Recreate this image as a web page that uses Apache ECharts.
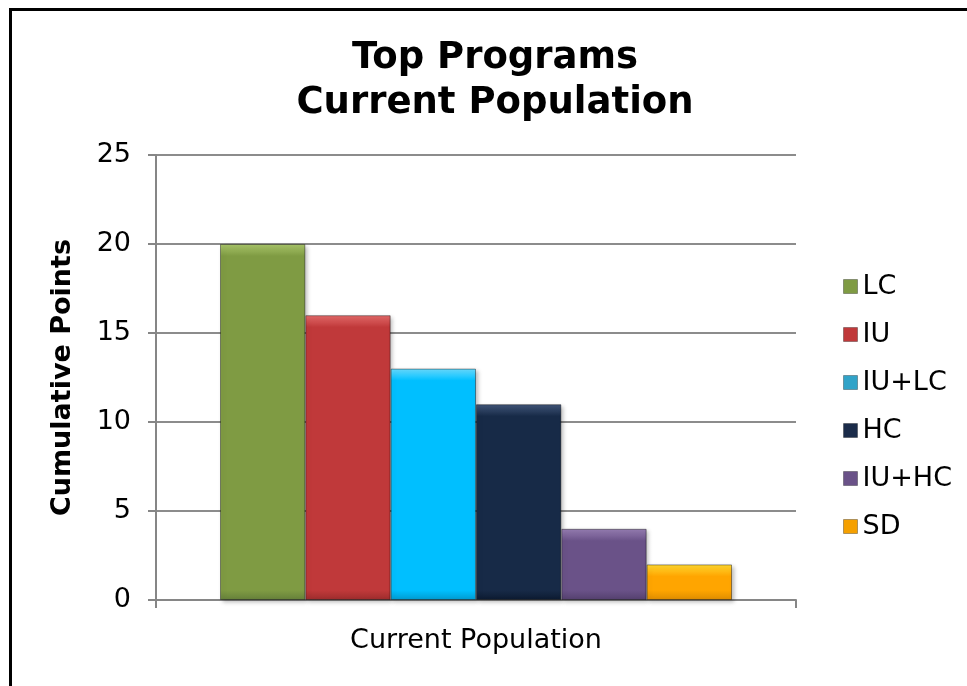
<!DOCTYPE html>
<html>
<head>
<meta charset="utf-8">
<style>
html,body{margin:0;padding:0;background:#fff;}
#c{width:967px;height:686px;}
</style>
<script src="https://cdn.jsdelivr.net/npm/echarts@6/dist/echarts.min.js"></script>
</head>
<body>
<div id="c"></div>
<script>
const categories = ['Current Population'];
const seriesNames = ['LC', 'IU', 'IU+LC', 'HC', 'IU+HC', 'SD'];
const seriesValues = [20, 16, 13, 11, 4, 2];
const yTicks = [0, 5, 10, 15, 20, 25];

const baseColors = ['#7f9b43', '#c0393a', '#00bfff', '#172a47', '#6a5288', '#ffa500'];
const topColors  = ['#a9c56a', '#e46a6a', '#6adcff', '#42577a', '#977eb3', '#ffd830'];
const botColors  = ['#65803a', '#9c2c2c', '#009ad0', '#0c1a30', '#54406e', '#dd8c00'];
const legendColors = ['#7f9b43', '#c0393a', '#31a3c8', '#1b2c4a', '#6a5288', '#f5a000'];

const chart = echarts.init(document.getElementById('c'));
const pxPerUnit = 445 / 25;
const bevel = 12;

const series = seriesNames.map((name, i) => {
  const h = seriesValues[i] * pxPerUnit;
  const f = Math.min(0.45, bevel / h);
  return {
    name: name,
    type: 'bar',
    barGap: '0%',
    barCategoryGap: '20%',
    data: [seriesValues[i]],
    itemStyle: {
      color: {
        type: 'linear', x: 0, y: 0, x2: 0, y2: 1,
        colorStops: [
          {offset: 0, color: topColors[i]},
          {offset: f, color: baseColors[i]},
          {offset: 1 - f * 0.8, color: baseColors[i]},
          {offset: 1, color: botColors[i]}
        ]
      },
      borderColor: 'rgba(0,0,0,0.4)',
      borderWidth: 1,
      shadowColor: 'rgba(0,0,0,0.25)',
      shadowBlur: 4,
      shadowOffsetX: 2,
      shadowOffsetY: 2
    },
    emphasis: {disabled: true}
  };
});

chart.setOption({
  animation: false,
  backgroundColor: '#ffffff',
  graphic: [{
    type: 'rect',
    shape: {x: 10.5, y: 9.5, width: 1000, height: 700},
    style: {fill: 'none', stroke: '#000', lineWidth: 3},
    silent: true
  }],
  title: {
    text: 'Top Programs\nCurrent Population',
    left: 490,
    top: 31,
    textAlign: 'center',
    textStyle: {
      fontFamily: 'DejaVu Sans',
      fontWeight: 'bold',
      fontSize: 37,
      lineHeight: 45,
      color: '#000'
    }
  },
  legend: {
    orient: 'vertical',
    left: 838,
    top: 268,
    itemWidth: 14,
    itemHeight: 14,
    itemGap: 21,
    icon: 'rect',
    textStyle: {fontFamily: 'DejaVu Sans', fontSize: 27, color: '#000', padding: [0, 0, 0, 0]},
    data: seriesNames.map((n, i) => ({name: n, itemStyle: {color: legendColors[i], borderColor: 'rgba(0,0,0,0.3)', borderWidth: 1}}))
  },
  grid: {left: 156, right: 171, top: 155, bottom: 86},
  xAxis: {
    type: 'category',
    data: categories,
    axisLine: {lineStyle: {color: '#868686', width: 2}},
    axisTick: {show: true, length: 8, lineStyle: {color: '#868686', width: 2}},
    axisLabel: {fontFamily: 'DejaVu Sans', fontSize: 27, color: '#000', margin: 27}
  },
  yAxis: {
    type: 'value',
    min: yTicks[0],
    max: yTicks[yTicks.length - 1],
    interval: 5,
    name: 'Cumulative Points',
    nameLocation: 'middle',
    nameGap: 80,
    nameTextStyle: {fontFamily: 'DejaVu Sans', fontWeight: 'bold', fontSize: 27, color: '#000'},
    axisLine: {show: true, lineStyle: {color: '#868686', width: 2}},
    axisTick: {show: true, length: 8, lineStyle: {color: '#868686', width: 2}},
    axisLabel: {fontFamily: 'DejaVu Sans', fontSize: 27, color: '#000', margin: 25},
    splitLine: {lineStyle: {color: '#8c8c8c', width: 2}}
  },
  series: series
});
</script>
</body>
</html>
